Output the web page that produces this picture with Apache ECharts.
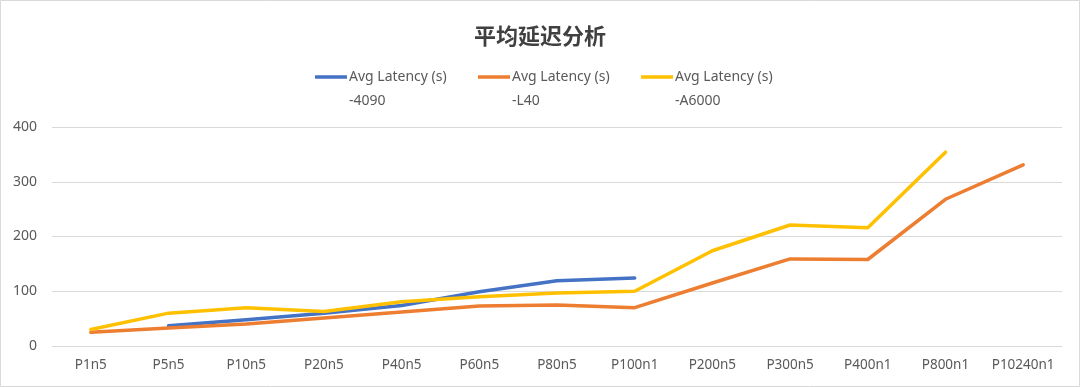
<!DOCTYPE html>
<html><head><meta charset="utf-8">
<script src="https://cdn.jsdelivr.net/npm/echarts@6/dist/echarts.min.js"></script>
<style>html,body{margin:0;padding:0;background:#fff}#c{width:1080px;height:387px}</style>
</head><body><div id="c"></div>
<script>
const categories = ['P1n5','P5n5','P10n5','P20n5','P40n5','P60n5','P80n5','P100n1','P200n5','P300n5','P400n1','P800n1','P10240n1'];
const s4090 = [null,37,48,60,74,99,119,124,null,null,null,null,null];
const sL40  = [25,33,40,51,62,73,75,70,115,159,158,268,331];
const sA6000= [30,60,70,63,81,90,97,100,174,221,216,354,null];
const seriesNames = ['Avg Latency (s)\n-4090','Avg Latency (s)\n-L40','Avg Latency (s)\n-A6000'];
const colors = ['#4472C4','#ED7D31','#FFC000'];
const yTicks = {min:0,max:400,interval:100};

const font = 'Noto Sans, "Noto Sans CJK SC", sans-serif';
const iconPath = 'path://M0,0h0.01v0.01h-0.01z M1,10.2h31v3.6h-31z M0,47.99h0.01v0.01h-0.01z';
const legendLefts = [309,472,635];
const chart = echarts.init(document.getElementById('c'));
chart.setOption({
  backgroundColor:'#fff',
  animation:false,
  title:{text:'平均延迟分析',left:'center',top:20,textStyle:{fontFamily:'"Noto Sans CJK SC", sans-serif',fontSize:22,fontWeight:'bold',color:'#404040'}},
  legend: seriesNames.map((n,i)=>({
    data:[n],left:legendLefts[i],top:60,icon:iconPath,itemWidth:33,itemHeight:48,itemGap:0,
    symbolKeepAspect:false,
    itemStyle:{borderWidth:0},
    textStyle:{fontFamily:font,fontSize:14,color:'#595959',lineHeight:24,padding:[0,0,0,-3]}
  })),
  grid:{left:52,right:18,top:127,bottom:41},
  xAxis:{type:'category',data:categories,boundaryGap:true,
    axisLine:{lineStyle:{color:'#d9d9d9',width:1}},axisTick:{show:false},
    axisLabel:{color:'#595959',fontFamily:font,fontSize:13.5,margin:12,interval:0}},
  yAxis:{type:'value',min:yTicks.min,max:yTicks.max,interval:yTicks.interval,
    axisLine:{show:false},axisTick:{show:false},
    splitLine:{lineStyle:{color:'#d9d9d9',width:1}},
    axisLabel:{color:'#595959',fontFamily:font,fontSize:14,margin:15}},
  series:[s4090,sL40,sA6000].map((d,i)=>({
    name:seriesNames[i],type:'line',data:d,showSymbol:false,symbol:'none',
    connectNulls:false,color:colors[i],
    lineStyle:{width:3.5,color:colors[i],cap:'round',join:'round'}
  })),
  graphic:[{type:'rect',shape:{x:0.5,y:0.5,width:1079,height:386},style:{fill:null,stroke:'#d9d9d9',lineWidth:1},silent:true}]
});
</script></body></html>
